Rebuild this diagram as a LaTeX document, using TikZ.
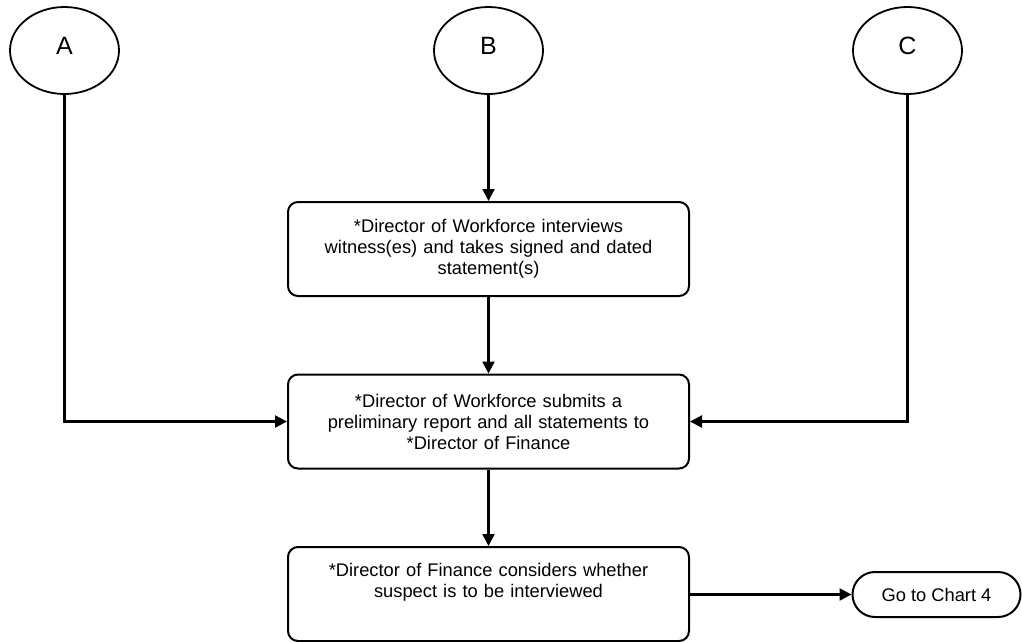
\documentclass[tikz,border=0pt]{standalone}
\usepackage{fontspec}
\setmainfont{Liberation Sans}
\usetikzlibrary{shapes.geometric,arrows.meta}
\begin{document}
\begin{tikzpicture}[x=1pt,y=-1pt,
  conn/.style={draw, line width=2.2pt, -{Triangle[length=12pt,width=12pt]}},
  startoval/.style={draw, ellipse, line width=1.8pt, inner sep=0pt,
    minimum width=109pt, minimum height=87pt,
    font=\fontsize{25}{28}\selectfont, text height=18pt, text depth=11pt},
  stepbox/.style={draw, rectangle, rounded corners=10pt, line width=2pt,
    minimum width=401pt, minimum height=94pt, inner sep=0pt,
    text width=395pt, align=center,
    font=\fontsize{18.3}{21}\selectfont},
  endoval/.style={draw, rectangle, rounded corners=22.5pt, line width=2pt,
    minimum width=168pt, minimum height=45pt, inner sep=0pt,
    font=\fontsize{18.3}{21}\selectfont}
]
\useasboundingbox (0,0) rectangle (1022,641);

\node[startoval] (A) at (64.5,50.5) {A};
\node[startoval] (B) at (488.5,50.5) {B};
\node[startoval] (C) at (907.5,50.5) {C};

\node[stepbox] (s1) at (488.5,249) {*Director of Workforce interviews\\witness(es) and takes signed and dated\\statement(s)};
\node[stepbox] (s2) at (488.5,421.5) {*Director of Workforce submits a\\preliminary report and all statements to\\{}*Director of Finance};
\node[stepbox] (s3) at (488.5,594) {*Director of Finance considers whether\\suspect is to be interviewed\\\strut};

\node[endoval] (g4) at (936.5,594.5) {Go to Chart 4};

\draw[conn] (B.south) -- (s1.north);
\draw[conn] (s1.south) -- (s2.north);
\draw[conn] (s2.south) -- (s3.north);
\draw[conn] (A.south) |- (s2.west);
\draw[conn] (C.south) |- (s2.east);
\draw[conn] (s3.east |- g4.west) -- (g4.west);
\end{tikzpicture}
\end{document}
